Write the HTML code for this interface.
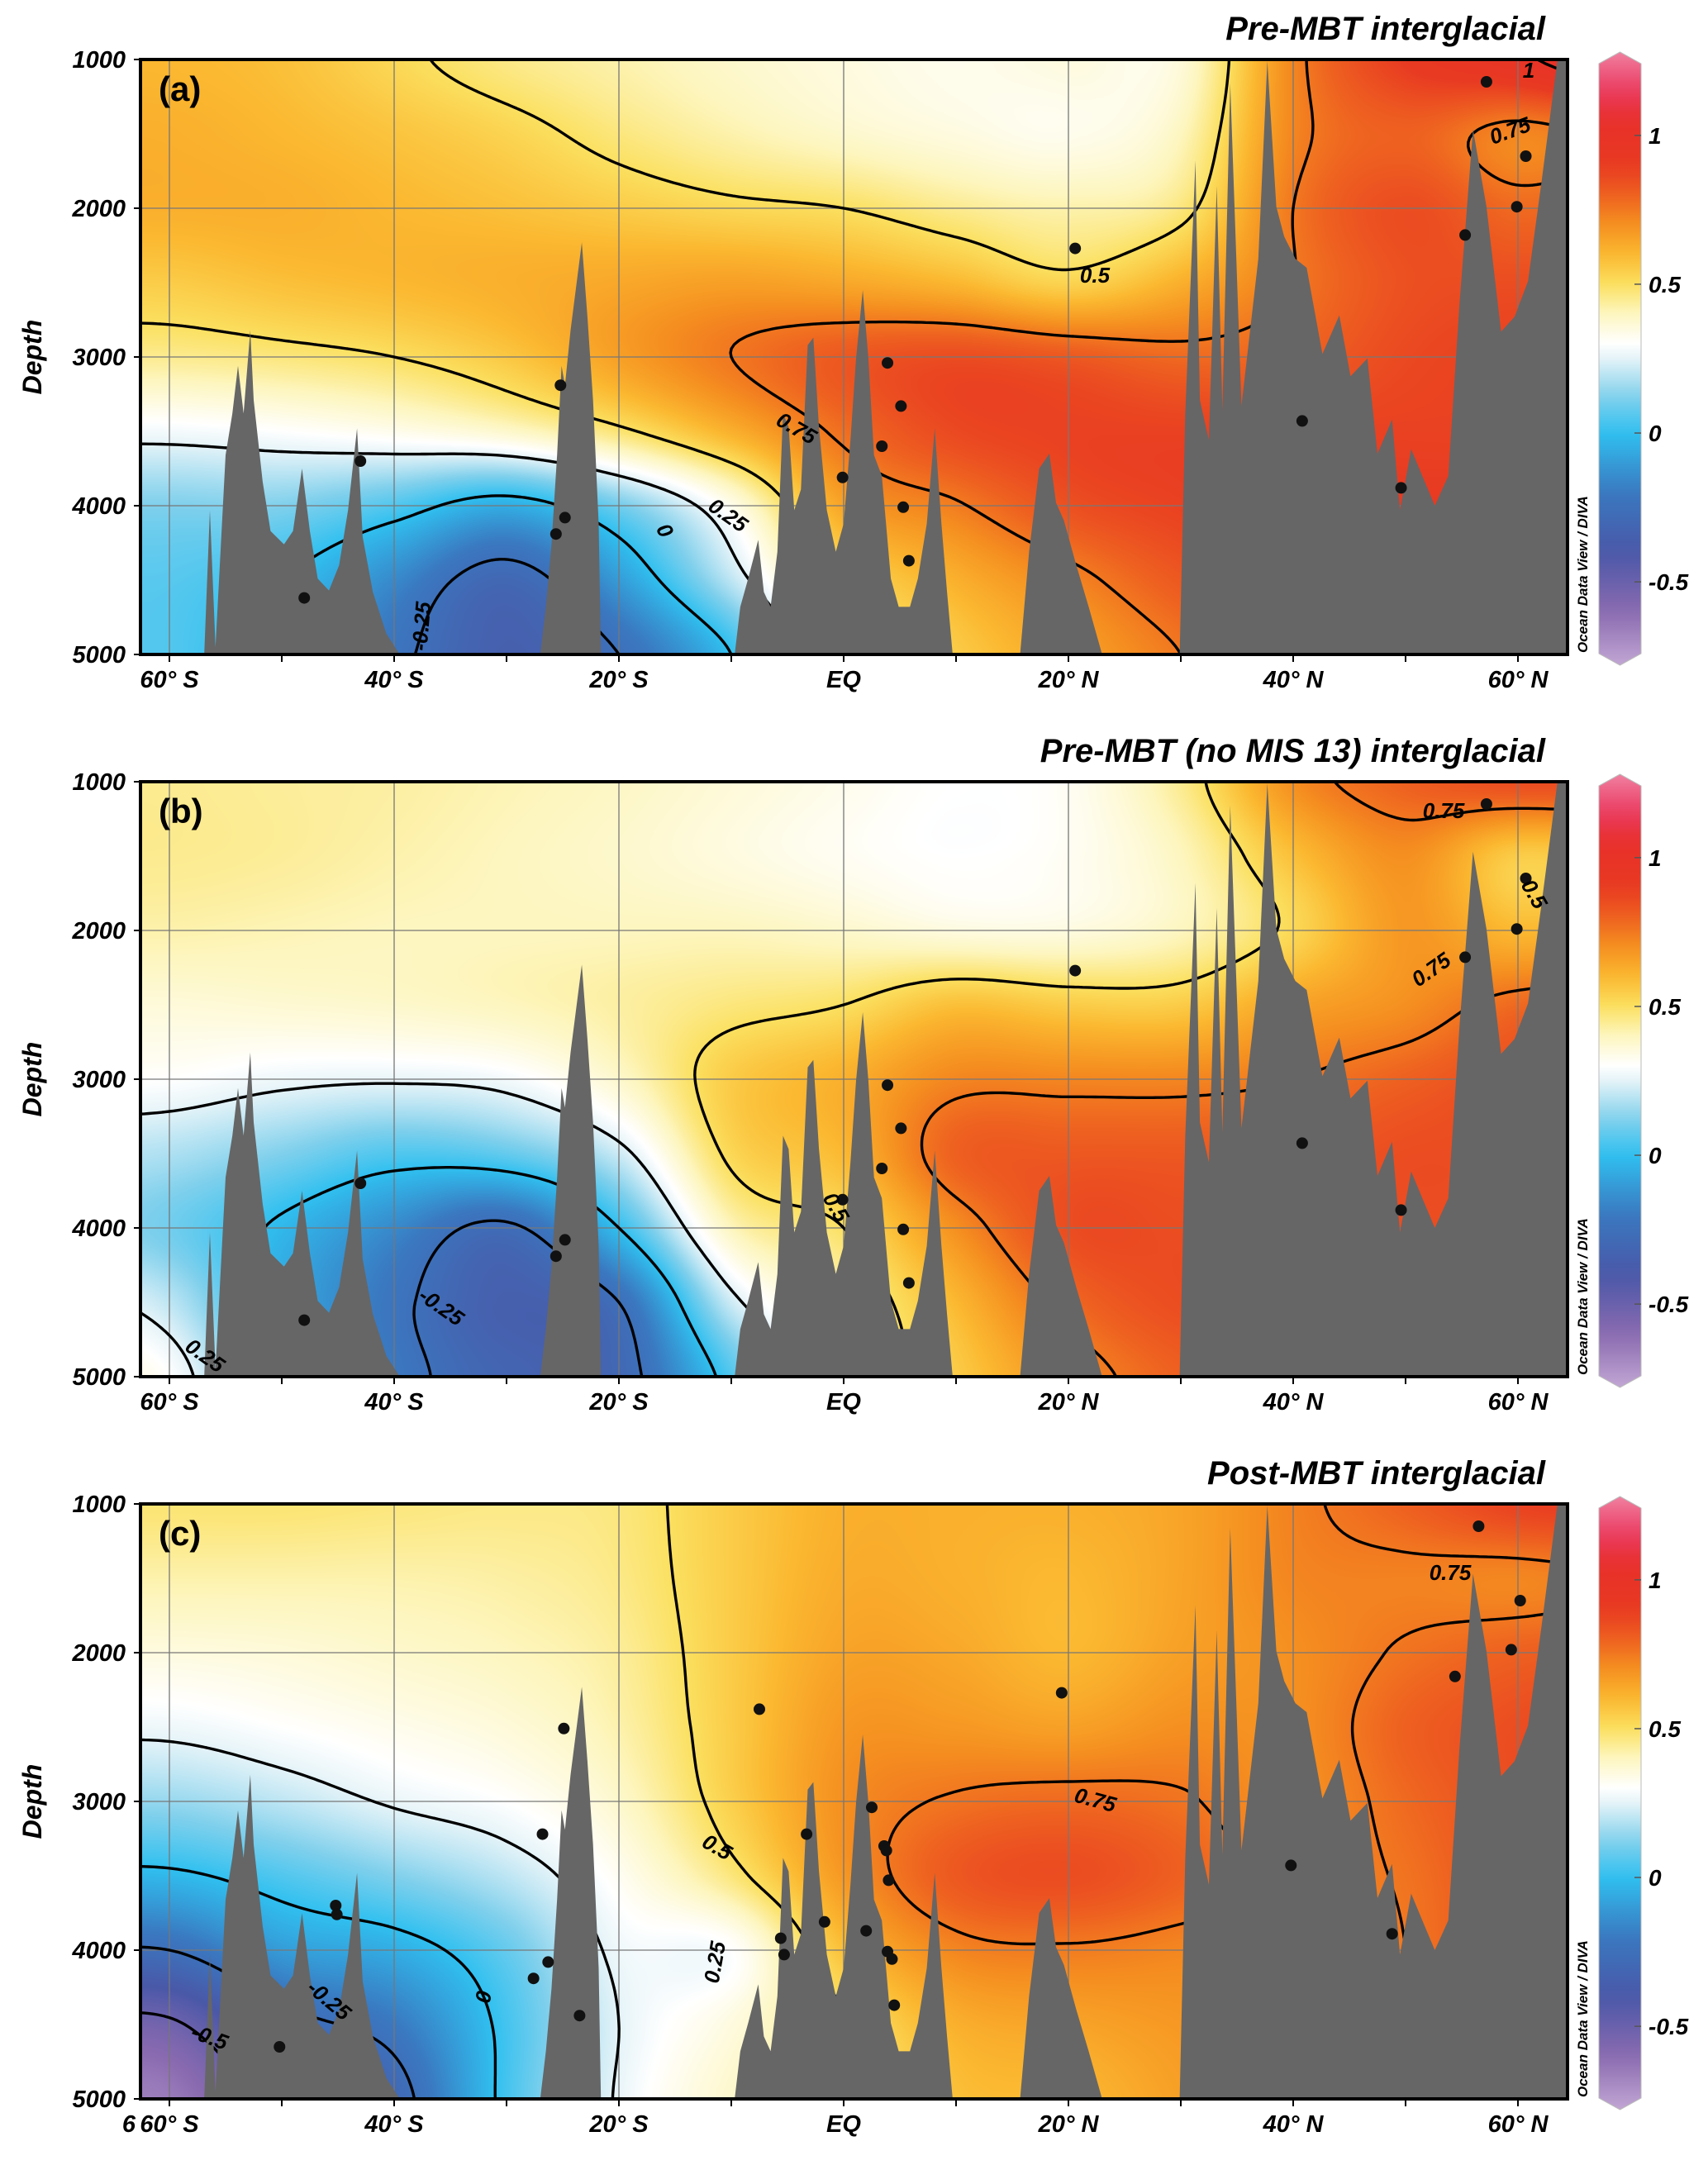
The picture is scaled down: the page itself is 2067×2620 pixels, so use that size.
<!DOCTYPE html>
<html><head><meta charset="utf-8">
<style>
html,body{margin:0;padding:0;background:#fff;}
#wrap{position:relative;width:2067px;height:2620px;overflow:hidden;}
#field{position:absolute;left:0;top:0;}
#ov{position:absolute;left:0;top:0;}
text{font-family:"Liberation Sans",sans-serif;}
</style></head>
<body>
<div id="wrap">
<canvas id="field" width="2067" height="2620"></canvas>
<svg id="ov" width="2067" height="2620" viewBox="0 0 2067 2620" xmlns="http://www.w3.org/2000/svg"></svg>
</div>
<script>
// ---------- data ----------
const gridLats = [-70,-60,-50,-40,-30,-20,-10,0,10,20,30,40,50,60,70];
const gridDepths = [1000,1500,2000,2500,3000,3500,4000,4500,5000];
const fieldA = [
[0.6,0.6,0.58,0.52,0.46,0.42,0.38,0.35,0.33,0.35,0.36,0.72,0.9,0.98,1.1],
[0.62,0.62,0.6,0.57,0.53,0.47,0.42,0.38,0.35,0.33,0.4,0.72,0.8,0.72,0.78],
[0.62,0.62,0.62,0.6,0.58,0.55,0.52,0.5,0.45,0.42,0.47,0.75,0.85,0.78,0.82],
[0.55,0.55,0.58,0.6,0.62,0.64,0.66,0.64,0.6,0.53,0.62,0.75,0.84,0.85,0.85],
[0.45,0.45,0.47,0.5,0.56,0.66,0.75,0.82,0.85,0.82,0.78,0.8,0.86,0.88,0.88],
[0.28,0.28,0.3,0.33,0.38,0.48,0.62,0.77,0.86,0.88,0.88,0.88,0.88,0.88,0.88],
[0.12,0.12,0.12,0.05,-0.05,0.1,0.33,0.65,0.74,0.84,0.88,0.9,0.9,0.9,0.9],
[0.05,0.06,0.0,-0.15,-0.3,-0.1,0.2,0.5,0.62,0.72,0.82,0.88,0.9,0.9,0.9],
[0.04,0.05,-0.05,-0.22,-0.35,-0.25,0.0,0.42,0.55,0.65,0.75,0.85,0.9,0.9,0.9]];
const fieldB = [
[0.45,0.45,0.44,0.43,0.41,0.39,0.36,0.33,0.3,0.32,0.45,0.7,0.8,0.85,0.85],
[0.45,0.45,0.44,0.42,0.4,0.38,0.35,0.32,0.3,0.32,0.4,0.58,0.7,0.55,0.6],
[0.42,0.42,0.41,0.4,0.4,0.4,0.4,0.38,0.35,0.35,0.4,0.52,0.68,0.6,0.65],
[0.36,0.36,0.37,0.38,0.4,0.43,0.47,0.5,0.58,0.55,0.55,0.65,0.7,0.78,0.8],
[0.3,0.3,0.27,0.26,0.28,0.38,0.55,0.62,0.72,0.72,0.72,0.75,0.8,0.85,0.85],
[0.2,0.18,0.12,0.05,0.08,0.22,0.52,0.6,0.8,0.82,0.82,0.82,0.85,0.85,0.85],
[0.15,0.1,-0.02,-0.15,-0.27,0.0,0.4,0.5,0.7,0.85,0.85,0.85,0.85,0.85,0.85],
[0.28,0.2,-0.05,-0.22,-0.35,-0.25,0.22,0.42,0.6,0.78,0.85,0.85,0.85,0.85,0.85],
[0.35,0.3,0.0,-0.2,-0.32,-0.3,0.05,0.4,0.55,0.7,0.8,0.82,0.82,0.82,0.82]];
const fieldC = [
[0.48,0.48,0.48,0.47,0.46,0.47,0.55,0.62,0.62,0.62,0.65,0.73,0.8,0.88,0.9],
[0.42,0.42,0.42,0.42,0.43,0.46,0.55,0.63,0.62,0.6,0.65,0.72,0.73,0.72,0.75],
[0.35,0.35,0.36,0.38,0.4,0.44,0.55,0.65,0.64,0.6,0.66,0.7,0.76,0.8,0.82],
[0.27,0.27,0.3,0.33,0.36,0.42,0.55,0.68,0.68,0.66,0.7,0.7,0.8,0.85,0.88],
[0.15,0.15,0.2,0.26,0.3,0.38,0.54,0.7,0.76,0.78,0.76,0.7,0.78,0.85,0.88],
[-0.02,-0.02,0.05,0.12,0.2,0.32,0.47,0.68,0.82,0.85,0.8,0.72,0.76,0.85,0.88],
[-0.25,-0.25,-0.1,-0.05,0.08,0.27,0.3,0.58,0.72,0.74,0.72,0.7,0.75,0.85,0.88],
[-0.52,-0.52,-0.3,-0.2,0.03,0.25,0.35,0.48,0.62,0.65,0.68,0.7,0.75,0.85,0.88],
[-0.65,-0.65,-0.45,-0.3,0.03,0.26,0.38,0.45,0.58,0.6,0.66,0.7,0.75,0.85,0.88]];
const bathyLat = [-56.9,-56.4,-55.9,-55.0,-54.4,-53.9,-53.4,-52.8,-52.5,-51.7,-51.0,-49.8,-49.0,-48.2,-47.5,-46.8,-45.8,-44.9,-44.1,-43.3,-42.8,-41.9,-40.7,-39.5,
 -27.0,-26.5,-26.0,-25.5,-25.1,-24.8,-24.3,-23.3,-22.8,-22.3,-21.8,-21.6,
 -9.7,-9.2,-8.5,-7.6,-7.1,-6.5,-5.9,-5.4,-4.9,-4.4,-3.8,-3.2,-2.7,-2.2,-1.5,-0.7,0,0.6,1.1,1.7,2.2,2.7,3.4,4.2,4.9,5.9,6.6,7.4,8.1,8.7,9.2,9.7,
 15.7,16.5,17.4,18.3,18.9,19.6,20.7,21.8,23.0,
 29.9,30.4,30.9,31.3,31.7,32.5,33.2,33.7,34.4,35.4,36.9,37.7,38.5,39.2,40.2,41.2,42.6,44.1,45.1,46.6,47.5,48.8,49.5,50.5,51.6,52.6,53.8,54.8,56.0,57.2,58.5,59.7,60.9,62.1,63.5,64.6,64.6];
const bathyDepth = [5000,4030,4950,3660,3380,3060,3380,2820,3290,3840,4170,4260,4170,3750,4170,4490,4570,4400,4030,3480,4210,4580,4860,5000,
 5000,4680,4260,3660,3060,3190,2820,2230,2730,3290,4120,5000,
 5000,4680,4490,4230,4580,4680,4310,3380,3470,4030,3890,2920,2870,3470,4030,4310,4120,3560,3010,2550,3010,3660,3800,4490,4680,4680,4490,4120,3480,4120,4580,5000,
 5000,4310,3750,3650,3980,4100,4400,4680,5000,
 5000,3380,2450,1680,3290,3560,1850,3360,1160,3330,2340,1010,1990,2190,2340,2400,2980,2720,3130,3010,3650,3420,4030,3620,3820,4000,3800,2640,1470,1990,2830,2730,2490,1820,1010,1000,5000];
const stationLatAB = [-48.0,-43.0,-25.6,-24.8,-0.1,3.4,3.9,5.1,5.3,5.8,20.6,40.8,49.6,55.3,57.2,59.9,60.7];
const stationDepthAB = [4620,3700,4190,4080,3810,3600,3040,3330,4010,4370,2270,3430,3880,2180,1150,1990,1650];
const extraLatA = [-25.2];
const extraDepthA = [3190];
const stationLatC = [-50.2,-45.2,-45.1,-27.6,-26.8,-26.3,-24.9,-23.5,-7.5,-5.6,-5.3,-3.3,-1.7,2.0,2.5,3.6,3.8,4.0,3.9,4.3,4.5,19.4,39.8,48.8,54.4,56.5,59.4,60.2];
const stationDepthC = [4650,3700,3760,4190,3220,4080,2510,4440,2380,3920,4030,3220,3810,3870,3040,3300,3330,3530,4010,4060,4370,2270,3430,3890,2160,1150,1980,1650];
const depthTicks = [1000,2000,3000,4000,5000];
const latTicks = [-60,-40,-20,0,20,40,60];
const latTickLabels = ["60° S","40° S","20° S","EQ","20° N","40° N","60° N"];
const contourLevels = [-0.5,-0.25,0,0.25,0.5,0.75,1];
const cbarTicks = [1,0.5,0,-0.5];
const cbarLabels = ["1","0.5","0","-0.5"];
const titles = ["Pre-MBT interglacial","Pre-MBT (no MIS 13) interglacial","Post-MBT interglacial"];
const panelLetters = ["(a)","(b)","(c)"];

// ---------- layout ----------
const PX0=170, PX1=1897, PH=720;
const tops=[72,946,1820];
const xOf = lat => 1021 + lat*13.6;
const latOf = x => (x-1021)/13.6;
const yOf = (d,top) => top + (d-1000)/4000*PH;
const depthOf = (y,top) => 1000 + (y-top)/PH*4000;

const cmap=[[-0.78,"#c2a6d4"],[-0.6,"#8a6ab0"],[-0.4,"#4a58a8"],[-0.2,"#3a78c0"],[0,"#30c0f0"],[0.12,"#80d0ec"],[0.25,"#e4f3f8"],[0.3,"#ffffff"],[0.4,"#fdf6c0"],[0.5,"#fbe060"],[0.6,"#fbb830"],[0.7,"#f59020"],[0.8,"#ee6020"],[0.9,"#e83a22"],[1.05,"#e8302a"],[1.15,"#ea3a60"],[1.28,"#f080a0"]];
const cm=cmap.map(s=>[s[0],parseInt(s[1].slice(1,3),16),parseInt(s[1].slice(3,5),16),parseInt(s[1].slice(5,7),16)]);
function color(v){
  if(v<=cm[0][0]) return cm[0].slice(1);
  for(let i=1;i<cm.length;i++){ if(v<=cm[i][0]){const a=cm[i-1],b=cm[i],t=(v-a[0])/(b[0]-a[0]);return [a[1]+(b[1]-a[1])*t,a[2]+(b[2]-a[2])*t,a[3]+(b[3]-a[3])*t];}}
  return cm[cm.length-1].slice(1);
}
function cr(p0,p1,p2,p3,t){return 0.5*((2*p1)+(-p0+p2)*t+(2*p0-5*p1+4*p2-p3)*t*t+(-p0+3*p1-3*p2+p3)*t*t*t);}
function sample(F,lat,depth){
  const fx=(lat-gridLats[0])/10, fy=(depth-gridDepths[0])/500;
  const nx=gridLats.length, ny=gridDepths.length;
  const ix=Math.floor(fx), iy=Math.floor(fy), tx=fx-ix, ty=fy-iy;
  const cl=(i,n)=>Math.max(0,Math.min(n-1,i));
  const rows=[];
  for(let k=-1;k<=2;k++){const r=F[cl(iy+k,ny)];
    rows.push(cr(r[cl(ix-1,nx)],r[cl(ix,nx)],r[cl(ix+1,nx)],r[cl(ix+2,nx)],tx));}
  return cr(rows[0],rows[1],rows[2],rows[3],ty);
}
const fields=[fieldA,fieldB,fieldC];

const ctx=document.getElementById('field').getContext('2d');
fields.forEach((F,p)=>{
  const top=tops[p], w=PX1-PX0, h=PH;
  const img=ctx.createImageData(w,h);
  for(let j=0;j<h;j++){const d=depthOf(top+j+0.5,top);
    for(let i=0;i<w;i++){const c=color(sample(F,latOf(PX0+i+0.5),d));const o=(j*w+i)*4;
      img.data[o]=c[0];img.data[o+1]=c[1];img.data[o+2]=c[2];img.data[o+3]=255;}}
  ctx.putImageData(img,PX0,top);
});

const NS="http://www.w3.org/2000/svg";
const svg=document.getElementById('ov');
function mk(tag,attrs,parent){const e=document.createElementNS(NS,tag);for(const k in attrs)e.setAttribute(k,attrs[k]);(parent||svg).appendChild(e);return e;}

fields.forEach((F,p)=>{
  const top=tops[p], bot=top+PH;
  const g=mk('g',{});
  
  
  const defs=mk('defs',{},g);
  const clip=mk('clipPath',{id:'clip'+p},defs);
  mk('rect',{x:PX0,y:top,width:PX1-PX0,height:PH},clip);
  depthTicks.forEach(d=>{const l=mk('line',{x1:PX0,x2:PX1,y1:yOf(d,top),y2:yOf(d,top),stroke:'#777','stroke-width':1.3},g);
    
    });
  latTicks.forEach(t=>{const l=mk('line',{x1:xOf(t),x2:xOf(t),y1:top,y2:bot,stroke:'#777','stroke-width':1.3},g);
    
    });
  const step=5, nx=Math.floor((PX1-PX0)/step)+1, ny=Math.floor(PH/step)+1;
  const V=[];for(let j=0;j<ny;j++){const r=[];const d=depthOf(top+j*step,top);for(let i=0;i<nx;i++)r.push(sample(F,latOf(PX0+i*step),d));V.push(r);}
  let dstr='';
  contourLevels.forEach(L=>{
    for(let j=0;j<ny-1;j++)for(let i=0;i<nx-1;i++){
      const a=V[j][i],b=V[j][i+1],c=V[j+1][i+1],d=V[j+1][i];
      const x0=PX0+i*step,y0=top+j*step;
      const pts=[];
      const e=(v1,v2,p1,p2)=>{const t=(L-v1)/(v2-v1);return [p1[0]+(p2[0]-p1[0])*t,p1[1]+(p2[1]-p1[1])*t];};
      const P=[[x0,y0],[x0+step,y0],[x0+step,y0+step],[x0,y0+step]],vals=[a,b,c,d];
      for(let k=0;k<4;k++){const v1=vals[k],v2=vals[(k+1)%4];if((v1<L)!==(v2<L))pts.push(e(v1,v2,P[k],P[(k+1)%4]));}
      for(let k=0;k+1<pts.length;k+=2)dstr+='M'+pts[k][0].toFixed(1)+' '+pts[k][1].toFixed(1)+'L'+pts[k+1][0].toFixed(1)+' '+pts[k+1][1].toFixed(1);
    }});
  const cp=mk('path',{d:dstr,stroke:'#000','stroke-width':3.4,fill:'none','stroke-linecap':'round','clip-path':'url(#clip'+p+')'},g);
  
  
  let bd='M'+xOf(bathyLat[0])+' '+yOf(bathyDepth[0],top);
  for(let k=1;k<bathyLat.length;k++)bd+='L'+xOf(bathyLat[k]).toFixed(1)+' '+yOf(bathyDepth[k],top).toFixed(1);
  bd+='Z';
  const bp=mk('path',{d:bd,fill:'#666666',stroke:'none','clip-path':'url(#clip'+p+')'},g);
  
  
  let sl=p<2?stationLatAB.slice():stationLatC.slice(), sd=p<2?stationDepthAB.slice():stationDepthC.slice();
  if(p===0){sl=sl.concat(extraLatA);sd=sd.concat(extraDepthA);}
  sl.forEach((lat,k)=>{const c=mk('circle',{cx:xOf(lat),cy:yOf(sd[k],top),r:7,fill:'#111'},g);
    
    });
  const fr=mk('rect',{x:PX0,y:top,width:PX1-PX0,height:PH,fill:'none',stroke:'#000','stroke-width':4},g);
  
  
  depthTicks.forEach(d=>{const t=mk('text',{x:152,y:yOf(d,top)+10,'text-anchor':'end','font-size':29,'font-weight':'bold','font-style':'italic'},g);t.textContent=d;
    
    
    mk('line',{x1:PX0-8,x2:PX0,y1:yOf(d,top),y2:yOf(d,top),stroke:'#000','stroke-width':2},g);});
  latTicks.forEach((lt,k)=>{const t=mk('text',{x:xOf(lt),y:bot+40,'text-anchor':'middle','font-size':29,'font-weight':'bold','font-style':'italic'},g);t.textContent=latTickLabels[k];
    
    });
  for(let lt=-60;lt<=60;lt+=10)mk('line',{x1:xOf(lt),x2:xOf(lt),y1:bot,y2:bot+9,stroke:'#000','stroke-width':2},g);
  if(p===2){const t=mk('text',{x:156,y:bot+40,'text-anchor':'middle','font-size':29,'font-weight':'bold','font-style':'italic'},g);t.textContent='6';
    
    }
  const yt=mk('text',{x:0,y:0,transform:'translate(50,'+(top+PH/2)+') rotate(-90)','text-anchor':'middle','font-size':32,'font-weight':'bold','font-style':'italic'},g);yt.textContent='Depth';
  
  
  const tt=mk('text',{x:1870,y:top-24,'text-anchor':'end','font-size':40,'font-weight':'bold','font-style':'italic'},g);tt.textContent=titles[p];
  
  
  const pl=mk('text',{x:192,y:top+50,'font-size':42,'font-weight':'bold'},g);pl.textContent=panelLetters[p];
  
  
  const gid='cbg'+p;
  const lg=mk('linearGradient',{id:gid,x1:0,y1:0,x2:0,y2:1},defs);
  const cTop=top-9, cBot=top+733, v0=1.28, v1=-0.78;
  for(let k=0;k<=40;k++){const v=v0+(v1-v0)*k/40;const c=color(v);mk('stop',{offset:(k/40),'stop-color':'rgb('+c.map(Math.round).join(',')+')'},lg);}
  const cx0=1935,cx1=1986;
  const cb=mk('path',{d:`M${cx0} ${cTop+14}L${(cx0+cx1)/2} ${cTop}L${cx1} ${cTop+14}L${cx1} ${cBot-14}L${(cx0+cx1)/2} ${cBot}L${cx0} ${cBot-14}Z`,fill:'url(#'+gid+')',stroke:'#bbb','stroke-width':1},g);
  
  
  cbarTicks.forEach((v,k)=>{const y=cTop+(v0-v)/(v0-v1)*(cBot-cTop);
    mk('line',{x1:cx1-8,x2:cx1,y1:y,y2:y,stroke:'#555','stroke-width':1.5},g);
    const t=mk('text',{x:1995,y:y+10,'font-size':28,'font-weight':'bold','font-style':'italic'},g);t.textContent=cbarLabels[k];
    
    });
  const od=mk('text',{x:0,y:0,transform:'translate(1921,'+(bot-2)+') rotate(-90)','font-size':17,'font-weight':'bold','font-style':'italic'},g);od.textContent='Ocean Data View / DIVA';
  
  
});

const contourLabelText=["1","0.75","0.5","0.75","0.25","0","-0.25","0.75","0.5","0.75","0.5","-0.25","0.25","0.75","0.75","0.5","0.25","0","-0.25","-0.5"];
const annX=[1850,1828,1325,963,880,803,512,1747,1855,1733,1010,533,247,1755,1325,867,867,587,397,253];
const annY=[87,160,335,520,625,643,758,983,1083,1175,1462,1583,1642,1905,2180,2237,2375,2417,2422,2467];
const annR=[0,-20,0,30,35,60,-85,0,60,-35,60,35,35,0,15,30,-80,-80,40,20];
contourLabelText.forEach((s,k)=>{const t=mk('text',{x:0,y:0,transform:`translate(${annX[k]},${annY[k]}) rotate(${annR[k]})`,'text-anchor':'middle','dominant-baseline':'middle','font-size':26,'font-weight':'bold','font-style':'italic'});t.textContent=s;
  
  });
</script>
</body></html>
